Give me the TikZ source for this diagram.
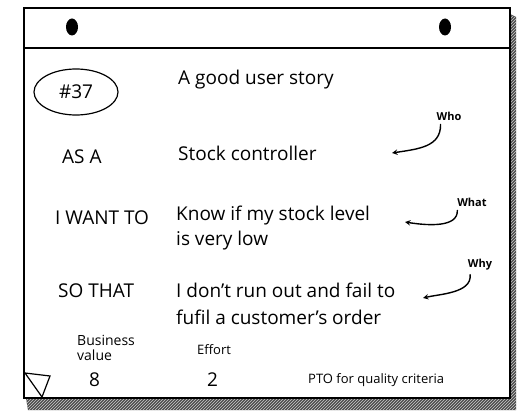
\documentclass[tikz,border=0pt]{standalone}
\usepackage{fontspec}
\setmainfont{Open Sans}
\usepackage{tikz}
\usetikzlibrary{shapes.geometric, arrows, patterns}

\tikzset{
	bigtext/.style={anchor=west, inner sep=0pt, font=\fontsize{19}{22}\selectfont},
	midtext/.style={anchor=west, inner sep=0pt, font=\fontsize{13}{14}\selectfont},
	tinytext/.style={inner sep=0pt, font=\fontsize{11}{12}\selectfont\bfseries},
	pointer/.style={-stealth, line width=1.4pt, line cap=round, shorten <=4pt},
	hole/.style={fill=black}
}

\begin{document}
\begin{tikzpicture}[x=1pt, y=-1pt]
	\useasboundingbox (0,0) rectangle (520,412);
	% shadow of the card
	\fill[black!70] (510,14) -- (516,17) -- (516,410) -- (28,410) -- (26,398) -- (510,398) -- cycle;
	\fill[pattern=north east lines, pattern color=white!80!black] (510,14) -- (516,17) -- (516,410) -- (28,410) -- (26,398) -- (510,398) -- cycle;
	% card
	\fill[white] (24,8) rectangle (510,398);
	\draw[line width=1.2pt] (24,8) rectangle (510,398);
	\draw[line width=1.2pt] (24,48) -- (510,48);
	\fill[hole] (72,27) ellipse (6 and 8.5);
	\fill[hole] (445,27) ellipse (6 and 8.5);
	% folded corner
	\draw[line width=1.2pt] (25,373) -- (50,376) -- (42,397) -- cycle;

	\node[draw, line width=1.2pt, ellipse, minimum width=84, minimum height=46, inner sep=0pt,
		font=\fontsize{19}{22}\selectfont] (num) at (76,92) {\#37};
	\node[bigtext] (title) at (178,80) {A good user story};

	\node[bigtext] (asa) at (62,157) {AS A};
	\node[bigtext] (who) at (178,153) {Stock controller};
	\node[bigtext] (want) at (55,218) {I WANT TO};
	\node[bigtext] (what1) at (176,216) {Know if my stock level};
	\node[bigtext] (what2) at (176,241) {is very low};
	\node[bigtext] (so) at (58,291) {SO THAT};
	\node[bigtext] (why1) at (176,290) {I don't run out and fail to};
	\node[bigtext] (why2) at (176,317) {fufil a customer's order};

	% hints on the right
	\node[tinytext] (whohint) at (449,116) {Who};
	\node[tinytext] (whathint) at (472,202) {What};
	\node[tinytext] (whyhint) at (480,265) {Why};
	\coordinate (whoend) at (392,153);
	\coordinate (whatend) at (405,222);
	\coordinate (whyend) at (423,298);
	\draw[pointer] ([xshift=4pt]whohint.south west) .. controls (441,147) and (418,149) .. (whoend);
	\draw[pointer] (whathint.south west) .. controls (458,227) and (430,226) .. (whatend);
	\draw[pointer] ([xshift=2pt]whyhint.south west) .. controls (472,293) and (440,294) .. (whyend);

	% footer
	\node[midtext, align=left, font=\fontsize{14}{15}\selectfont] (bv) at (77,348) {Business\\value};
	\node[midtext] (eff) at (197,350) {Effort};
	\node[bigtext] (bvnum) at (89,380) {8};
	\node[bigtext] (effnum) at (207,380) {2};
	\node[midtext] (pto) at (308,380) {PTO for quality criteria};
\end{tikzpicture}
\end{document}
